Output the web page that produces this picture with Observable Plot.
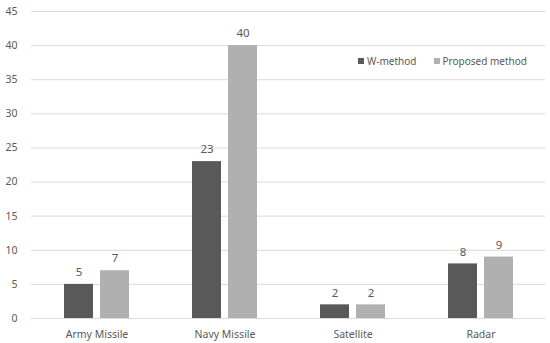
<!DOCTYPE html>
<html>
<head>
<meta charset="utf-8">
<script src="https://cdn.jsdelivr.net/npm/d3@7"></script>
<script src="https://cdn.jsdelivr.net/npm/@observablehq/plot@0.6"></script>
<style>
  html, body { margin: 0; padding: 0; background: #fff; }
  #wrap { position: relative; width: 550px; height: 343px; font-family: "Noto Sans", sans-serif; }
  #legend { position: absolute; top: 54px; left: 358px; font-size: 10px; color: #595959; display: flex; gap: 17px; white-space: nowrap; }
  #legend span.sw { display: inline-block; width: 6px; height: 6px; margin-right: 3px; vertical-align: 1px; }
</style>
</head>
<body>
<div id="wrap"></div>
<script>
const categories = ["Army Missile", "Navy Missile", "Satellite", "Radar"];
const seriesNames = ["W-method", "Proposed method"];
const wMethod = [5, 23, 2, 8];
const proposed = [7, 40, 2, 9];
const yTicks = [0, 5, 10, 15, 20, 25, 30, 35, 40, 45];
const colors = ["#595959", "#b0b0b0"];

const wData = categories.map((c, i) => ({cat: c, series: seriesNames[0], value: wMethod[i]}));
const pData = categories.map((c, i) => ({cat: c, series: seriesNames[1], value: proposed[i]}));

const chart = Plot.plot({
  width: 550,
  height: 343,
  marginLeft: 31,
  marginRight: 5,
  marginTop: 11,
  marginBottom: 25,
  style: {fontFamily: "Noto Sans, sans-serif", fontSize: "10.5px", color: "#595959", background: "#fff"},
  x: {domain: categories, paddingInner: 0.494, paddingOuter: 0.247, label: null},
  y: {domain: [0, 45], label: null},
  color: {domain: seriesNames, range: colors},
  marks: [
    Plot.gridY(yTicks, {stroke: "#d9d9d9", strokeOpacity: 1}),
    Plot.axisY(yTicks, {tickSize: 0, tickPadding: 14, label: null, fill: "#595959", fontSize: 10.5}),
    Plot.axisX({tickSize: 0, tickPadding: 12, label: null, fill: "#595959", fontSize: 10.5}),
    Plot.barY(wData, {x: "cat", y: "value", fill: "series", insetRight: 36}),
    Plot.barY(pData, {x: "cat", y: "value", fill: "series", insetLeft: 36}),
    Plot.text(wData, {x: "cat", y: "value", text: "value", dx: -18, dy: -12, fill: "#595959", fontSize: 11.5}),
    Plot.text(pData, {x: "cat", y: "value", text: "value", dx: 18, dy: -12, fill: "#595959", fontSize: 11.5})
  ]
});

const wrap = document.getElementById("wrap");
wrap.appendChild(chart);
const legend = document.createElement("div");
legend.id = "legend";
seriesNames.forEach((s, i) => {
  const item = document.createElement("div");
  const sw = document.createElement("span");
  sw.className = "sw";
  sw.style.background = colors[i];
  item.appendChild(sw);
  item.appendChild(document.createTextNode(s));
  legend.appendChild(item);
});
wrap.appendChild(legend);
</script>
</body>
</html>
